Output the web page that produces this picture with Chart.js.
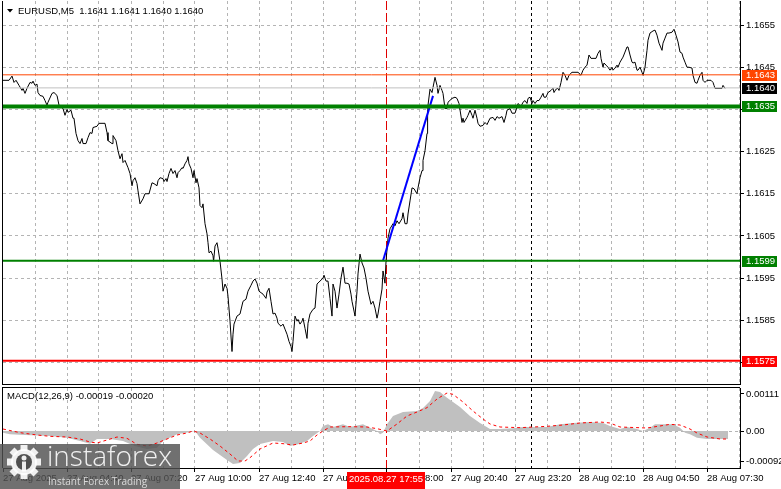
<!DOCTYPE html>
<html>
<head>
<meta charset="utf-8">
<script src="https://cdn.jsdelivr.net/npm/chart.js@4.4.1/dist/chart.umd.min.js"></script>
<style>
  html, body { margin: 0; padding: 0; background: #fff; }
  #wrap { position: relative; width: 781px; height: 489px; overflow: hidden; }
  #main { position: absolute; left: 0; top: 0; }
  #macd { position: absolute; left: 0; top: 386px; }
</style>
</head>
<body>
<div id="wrap">
  <canvas id="main" width="781" height="386"></canvas>
  <canvas id="macd" width="781" height="103"></canvas>
</div>
<script>
// EURUSD M5 close prices, [bar index, price]
const pricePath = [
  [0,1.16419],[3,1.16419],[4.5,1.16429],[5.5,1.16414],[6.5,1.16419],[8,1.16407],[9.5,1.16395],[10,1.16400],[11,1.16388],[12,1.16400],
  [13.5,1.16414],[14.5,1.16412],[15,1.16417],[16,1.16407],[17,1.16410],[17.5,1.16390],[18.5,1.16383],[20,1.16381],[21,1.16371],[22,1.16360],
  [22.5,1.16367],[24.5,1.16388],[25.5,1.16390],[27,1.16383],[28,1.16360],[30,1.16352],[31,1.16336],[32,1.16350],[32.5,1.16343],[34,1.16348],
  [35,1.16329],[35.5,1.16329],[36.5,1.16293],[37.5,1.16276],[38.5,1.16269],[39.5,1.16281],[40,1.16269],[41.5,1.16269],[42.5,1.16283],[43.5,1.16295],
  [44.5,1.16293],[45,1.16307],[47,1.16310],[48,1.16317],[51,1.16317],[52,1.16295],[52.5,1.16276],[54.5,1.16269],[55,1.16288],[56.5,1.16276],
  [57.5,1.16252],[58.5,1.16233],[59.5,1.16245],[60,1.16224],[61,1.16229],[62.5,1.16212],[63.5,1.16198],[64.5,1.16169],[65,1.16181],[66,1.16188],
  [67,1.16174],[67.5,1.16157],[68.5,1.16126],[70,1.16138],[71,1.16150],[73,1.16150],[74.5,1.16176],[75.5,1.16174],[77,1.16169],[77.5,1.16181],
  [78.5,1.16188],[80,1.16186],[80.5,1.16179],[81.5,1.16186],[82,1.16179],[83,1.16198],[84,1.16210],[85,1.16198],[86,1.16205],[87,1.16188],
  [87.5,1.16200],[88.5,1.16205],[89.5,1.16212],[90,1.16210],[91,1.16221],[92,1.16229],[92.5,1.16238],[93,1.16221],[94,1.16210],[95,1.16188],
  [95.5,1.16205],[96.5,1.16176],[97,1.16186],[98,1.16164],[98.5,1.16122],[99.5,1.16117],[100,1.16126],[101,1.16079],[102,1.16055],[102.5,1.16034],
  [103,1.16010],[104,1.16014],[105,1.16003],[105.3,1.15990],[106,1.16026],[107,1.16034],[107.5,1.16021],[108.5,1.15990],[109.5,1.15948],[110,1.15919],
  [111,1.15936],[112,1.15926],[112.5,1.15907],[113.5,1.15848],[114.5,1.15776],[115,1.15817],[115.5,1.15841],[117,1.15860],[118.5,1.15865],[120,1.15895],
  [121.5,1.15900],[122.5,1.15919],[124,1.15933],[125,1.15943],[126,1.15948],[127,1.15938],[128,1.15919],[130,1.15912],[131.5,1.15902],[132,1.15917],
  [133,1.15926],[134,1.15895],[135,1.15865],[136,1.15867],[137,1.15855],[137.5,1.15843],[139,1.15836],[140,1.15841],[141,1.15829],[142,1.15817],
  [143,1.15800],[144,1.15788],[144.5,1.15776],[145,1.15800],[146,1.15860],[147,1.15848],[147.5,1.15852],[148.5,1.15841],[149.5,1.15848],[150,1.15855],
  [151,1.15831],[152,1.15807],[152.5,1.15843],[153.5,1.15865],[155,1.15876],[156,1.15879],[157,1.15936],[158.5,1.15943],[160,1.15950],[160.5,1.15957],
  [161.5,1.15943],[162.5,1.15943],[163.5,1.15902],[164.5,1.15860],[165,1.15936],[166,1.15919],[167,1.15879],[168,1.15912],[169,1.15950],[170,1.15976],
  [171,1.15938],[172,1.15938],[173,1.15936],[174,1.15912],[174.5,1.15895],[175.5,1.15872],[176,1.15860],[177,1.15919],[177.5,1.15960],[178.5,1.16007],
  [179.5,1.15986],[180.5,1.15974],[181.5,1.15950],[182.5,1.15919],[184,1.15888],[185,1.15895],[186,1.15879],[187,1.15855],[187.5,1.15865],[188.5,1.15895],
  [189.5,1.15924],[190,1.15967],[191,1.15938],[191.5,1.15990],[192.5,1.16045],[193.5,1.16067],[195,1.16079],[196,1.16074],[197,1.16086],[198,1.16079],
  [199.5,1.16091],[200,1.16105],[201,1.16079],[202,1.16079],[202.5,1.16102],[203.5,1.16133],[204.5,1.16164],[205.5,1.16162],[207,1.16150],[207.5,1.16164],
  [208.5,1.16188],[209.5,1.16205],[210,1.16229],[211,1.16252],[212,1.16293],[212.3,1.16341],[212.5,1.16360],[213.5,1.16398],[214.5,1.16390],[215,1.16402],
  [216,1.16426],[217,1.16407],[217.5,1.16388],[218.5,1.16407],[219.5,1.16395],[220,1.16388],[221,1.16352],[222,1.16352],[222.5,1.16367],[224.5,1.16376],
  [226,1.16379],[227,1.16376],[228,1.16364],[229.5,1.16319],[230,1.16329],[230.5,1.16319],[232,1.16331],[232.5,1.16336],[233.5,1.16348],[234.5,1.16336],
  [235,1.16329],[236,1.16348],[237,1.16329],[237.5,1.16317],[238.5,1.16310],[240,1.16312],[241,1.16319],[242,1.16314],[243.5,1.16329],[245,1.16331],
  [246,1.16324],[247,1.16333],[248,1.16329],[249.5,1.16333],[250.5,1.16319],[251.5,1.16336],[252,1.16348],[253.5,1.16352],[254.5,1.16341],[256,1.16341],
  [257,1.16355],[257.5,1.16364],[259,1.16357],[260,1.16367],[261,1.16371],[262,1.16364],[262.5,1.16376],[263.5,1.16379],[264.5,1.16364],[265,1.16371],
  [266,1.16364],[267,1.16371],[268,1.16371],[269,1.16379],[270,1.16388],[270.5,1.16379],[271.5,1.16379],[272.5,1.16390],[274,1.16395],[275,1.16400],
  [275.5,1.16390],[276.5,1.16398],[277.5,1.16400],[278,1.16395],[279,1.16414],[280,1.16438],[281,1.16431],[282,1.16419],[283,1.16431],[284.5,1.16438],
  [287.5,1.16438],[289,1.16431],[290,1.16443],[291,1.16450],[292,1.16455],[293,1.16479],[294,1.16471],[295,1.16471],[296.5,1.16471],[297.5,1.16483],
  [298.5,1.16490],[299,1.16471],[300,1.16450],[300.5,1.16460],[301.5,1.16455],[302.5,1.16450],[303.5,1.16443],[304.5,1.16450],[305,1.16443],[306,1.16448],
  [307,1.16455],[307.5,1.16450],[308.5,1.16462],[310,1.16474],[311,1.16486],[312,1.16498],[312.5,1.16498],[313.5,1.16479],[314.5,1.16462],[315,1.16460],
  [316,1.16462],[317,1.16443],[317.5,1.16443],[318.5,1.16450],[319.5,1.16438],[320,1.16431],[321,1.16450],[322,1.16490],[322.5,1.16514],[323.5,1.16531],
  [325,1.16536],[326,1.16538],[327,1.16526],[328,1.16507],[329.5,1.16490],[330,1.16507],[331,1.16519],[332,1.16531],[333,1.16531],[334.5,1.16533],
  [335.5,1.16540],[336.5,1.16526],[337.5,1.16510],[338.5,1.16486],[339.5,1.16483],[340,1.16474],[341,1.16462],[342,1.16450],[343,1.16450],[344.5,1.16448],
  [345,1.16431],[346,1.16414],[347,1.16412],[347.5,1.16419],[348.5,1.16431],[349.5,1.16438],[350,1.16419],[351,1.16414],[352,1.16419],[354,1.16419],
  [355,1.16414],[355.5,1.16407],[356,1.16400],[359.5,1.16400],[360,1.16407],[361,1.16400]
];

// MACD main (histogram) and signal, [bar index, value]
const histPath = [
  [0,-0.00005],[3.5,-0.00010],[11,-0.00012],[23.5,-0.00015],[32,-0.00020],[38.5,-0.00030],[43.5,-0.00038],[47,-0.00024],[53.5,-0.00024],[60,-0.00030],
  [66,-0.00045],[72,-0.00054],[77,-0.00050],[80,-0.00030],[87,-0.00010],[93.5,-0.00003],[96,0],[98.5,-0.00020],[105,-0.00057],[112,-0.00087],
  [115,-0.00099],[118.5,-0.00096],[122,-0.00075],[125,-0.00054],[128.5,-0.00039],[135,-0.00030],[140,-0.00033],[143.5,-0.00045],[147.5,-0.00040],[152,-0.00030],
  [155,-0.00015],[158.5,0],[160,0.00015],[162.5,0.00020],[165,0.00012],[170,0.00020],[173.5,0.00012],[180,0.00020],[183.5,0.00010],[187,0],
  [188.5,-0.00010],[190,-0.00005],[192,0.00020],[195,0.00045],[200,0.00057],[207,0.00060],[210,0.00069],[213.5,0.00090],[216,0.00120],[218.5,0.00117],
  [222,0.00100],[225,0.00087],[228.5,0.00072],[233.5,0.00045],[238.5,0.00024],[243.5,0.00006],[248.5,0.00006],[255,0.00008],[260,0.00012],[272,0.00012],
  [278.5,0.00020],[285,0.00024],[293.5,0.00027],[300,0.00024],[303.5,0.00015],[308.5,0.00006],[312,0.00012],[317,0.00006],[320,0],[323.5,0.00010],
  [326,0.00020],[335,0.00020],[338.5,0.00010],[341,-0.00005],[343.5,-0.00010],[347,-0.00020],[352,-0.00024],[362.5,-0.00024]
];
const signalPath = [
  [0,0.00006],[8.5,-0.00005],[17,-0.00012],[23.5,-0.00016],[32,-0.00018],[38.5,-0.00024],[43.5,-0.00033],[47,-0.00036],[52,-0.00027],[57,-0.00018],
  [62,-0.00022],[67,-0.00040],[72,-0.00045],[77,-0.00036],[82,-0.00024],[87,-0.00012],[92,-0.00006],[95,0],[98.5,-0.00006],[103.5,-0.00024],
  [108.5,-0.00045],[113.5,-0.00069],[117.5,-0.00090],[121,-0.00090],[123.5,-0.00080],[128.5,-0.00054],[135,-0.00036],[140,-0.00038],[145,-0.00042],[150,-0.00036],
  [153.5,-0.00030],[157,-0.00012],[160,0],[163.5,0.00012],[173.5,0.00013],[182,0.00012],[187,0.00007],[192,0],[197,0.00021],[202,0.00045],
  [207,0.00057],[212,0.00070],[217,0.00096],[222,0.00114],[225,0.00110],[230,0.00087],[235,0.00060],[240,0.00036],[243.5,0.00021],[248.5,0.00012],
  [258.5,0.00010],[272,0.00014],[280,0.00018],[288.5,0.00024],[298.5,0.00027],[303.5,0.00024],[308.5,0.00012],[322,0.00009],[328.5,0.00015],[333.5,0.00020],
  [338.5,0.00018],[343.5,0.00006],[347,-0.00006],[352,-0.00018],[358.5,-0.00024],[362.5,-0.00024]
];

const priceTicks = [1.1575, 1.1585, 1.1595, 1.1605, 1.1615, 1.1625, 1.1635, 1.1645, 1.1655];
const macdTicks = [0.00111, 0, -0.00092];
const timeLabels = ['27 Aug 2025', '27 Aug 04:40', '27 Aug 07:20', '27 Aug 10:00', '27 Aug 12:40', '27 Aug 15:20',
                    '27 Aug 18:00', '27 Aug 20:40', '27 Aug 23:20', '28 Aug 02:10', '28 Aug 04:50', '28 Aug 07:30'];

// horizontal levels: ask, bid, then drawn levels
const levels = [1.16432, 1.16401, 1.16357, 1.15991, 1.15754];
const levelLabels = ['1.1643', '1.1640', '1.1635', '1.1599', '1.1575'];
const trendLine = [[190, 1.15991], [215, 1.16382]];
const markerBars = [191.5, 264];
const markerText = '2025.08.27 17:55';
const titleText = 'EURUSD,M5  1.1641 1.1641 1.1640 1.1640';
const macdText = 'MACD(12,26,9) -0.00019 -0.00020';

// ---- styles ----
const FONT = 'Liberation Sans';
const FSIZE = 9.5;
const GRID = '#b4b4b4';
const X_MAX = 368.5;
const levelStyle = [
  { color: '#ff4500', width: 1, box: '#ff4500' },
  { color: '#c0c0c0', width: 1, box: '#000000' },
  { color: '#008000', width: 4, box: '#008000' },
  { color: '#008000', width: 2, box: '#008000' },
  { color: '#ff0000', width: 2, box: '#ff0000' }
];

const gridBars = [];
for (let b = 0; b <= 368; b += 16) gridBars.push(b);

const toXY = arr => arr.map(p => ({ x: p[0], y: p[1] }));

function drawMarkers(chart) {
  const { ctx, chartArea: a, scales: { x } } = chart;
  markerBars.forEach((b, i) => {
    const px = Math.round(x.getPixelForValue(b)) + 0.5;
    ctx.save();
    ctx.strokeStyle = i === 0 ? '#e00000' : '#000000';
    ctx.setLineDash(i === 0 ? [9, 3] : [3, 3]);
    ctx.lineWidth = 1;
    ctx.beginPath();
    ctx.moveTo(px, a.top);
    ctx.lineTo(px, a.bottom);
    ctx.stroke();
    ctx.restore();
  });
}

function drawFrame(ctx, a, top, bottom) {
  ctx.save();
  ctx.strokeStyle = '#000';
  ctx.lineWidth = 1;
  ctx.beginPath();
  ctx.moveTo(a.left - 0.5, a.top);
  ctx.lineTo(a.left - 0.5, a.bottom);
  if (top) { ctx.moveTo(a.left - 1, a.top - 0.5); ctx.lineTo(a.right, a.top - 0.5); }
  if (bottom) { ctx.moveTo(a.left - 1, a.bottom + 0.5); ctx.lineTo(a.right, a.bottom + 0.5); }
  ctx.stroke();
  ctx.restore();
}

const mainDecor = {
  id: 'mainDecor',
  beforeDatasetsDraw(chart) { drawMarkers(chart); },
  afterDraw(chart) {
    const { ctx, chartArea: a, scales: { y } } = chart;
    drawFrame(ctx, a, false, true);
    // title
    ctx.save();
    ctx.fillStyle = '#000';
    ctx.beginPath();
    ctx.moveTo(7, 9); ctx.lineTo(13, 9); ctx.lineTo(10, 12.5); ctx.closePath();
    ctx.fill();
    ctx.font = FSIZE + 'px "' + FONT + '"';
    ctx.textBaseline = 'middle';
    ctx.fillText(titleText, 18, 11);
    // level price boxes on the axis
    levels.forEach((v, i) => {
      const py = Math.round(y.getPixelForValue(v));
      ctx.fillStyle = levelStyle[i].box;
      ctx.fillRect(742, py - 5, 35, 11);
      ctx.fillStyle = '#fff';
      ctx.fillText(levelLabels[i], 746, py + 0.5);
    });
    ctx.restore();
  }
};

const macdDecor = {
  id: 'macdDecor',
  beforeDatasetsDraw(chart) { drawMarkers(chart); },
  afterDraw(chart) {
    const { ctx, chartArea: a, scales: { x } } = chart;
    drawFrame(ctx, a, true, false);
    ctx.save();
    ctx.font = FSIZE + 'px "' + FONT + '"';
    ctx.textBaseline = 'middle';
    ctx.fillStyle = '#000';
    ctx.fillText(macdText, 7, 10);

    // watermark
    ctx.fillStyle = 'rgba(80,80,80,0.82)';
    ctx.fillRect(0, 58, 180, 45);
    const cx = 24, cy = 76;
    ctx.fillStyle = 'rgba(255,255,255,0.9)';
    for (let k = 0; k < 8; k++) {
      const ang = k * Math.PI / 4;
      ctx.save();
      ctx.translate(cx, cy);
      ctx.rotate(ang);
      ctx.fillRect(-3.5, -17, 7, 6);
      ctx.restore();
    }
    ctx.beginPath(); ctx.arc(cx, cy, 13, 0, Math.PI * 2); ctx.fill();
    ctx.fillStyle = 'rgb(80,80,80)';
    ctx.beginPath(); ctx.arc(cx, cy, 8, 0, Math.PI * 2); ctx.fill();
    ctx.fillStyle = 'rgba(255,255,255,0.9)';
    ctx.beginPath(); ctx.arc(cx, cy - 4, 2.5, 0, Math.PI * 2); ctx.fill();
    ctx.fillRect(cx - 2, cy - 0.5, 4, 10);
    ctx.textBaseline = 'alphabetic';
    ctx.font = '300 28px "Open Sans"';
    ctx.fillText('instaforex', 47, 80);
    ctx.font = '10px "Open Sans"';
    ctx.fillStyle = 'rgba(235,235,235,0.85)';
    ctx.fillText('Instant Forex Trading', 48, 99);

    // current time box on the time axis
    const px = Math.round(x.getPixelForValue(markerBars[0]));
    ctx.fillStyle = '#ff0000';
    ctx.fillRect(px - 39, 86, 78, 17);
    ctx.fillStyle = '#fff';
    ctx.font = FSIZE + 'px "' + FONT + '"';
    ctx.textAlign = 'center';
    ctx.textBaseline = 'middle';
    ctx.fillText(markerText, px, 93);
    ctx.restore();
  }
};

const tickFont = { family: FONT, size: FSIZE };

// ---- main price chart ----
new Chart(document.getElementById('main').getContext('2d'), {
  type: 'line',
  data: {
    datasets: [
      ...levels.map((v, i) => ({
        data: [{ x: 0, y: v }, { x: X_MAX, y: v }],
        borderColor: levelStyle[i].color,
        borderWidth: levelStyle[i].width
      })),
      { data: toXY(trendLine), borderColor: '#0000ff', borderWidth: 2 },
      { data: toXY(pricePath), borderColor: '#000000', borderWidth: 1 }
    ]
  },
  options: {
    responsive: false,
    animation: false,
    events: [],
    layout: { padding: { left: 3, top: 1, bottom: 2, right: 0 } },
    elements: { point: { radius: 0 }, line: { tension: 0 } },
    plugins: { legend: { display: false }, tooltip: { enabled: false } },
    scales: {
      x: {
        type: 'linear', min: 0, max: X_MAX,
        afterBuildTicks: s => { s.ticks = gridBars.map(v => ({ value: v })); },
        afterFit: s => { s.height = 0; s.paddingLeft = 0; s.paddingRight = 0; },
        ticks: { display: false },
        grid: { color: c => (c.tick && c.tick.value === 0) ? 'transparent' : GRID, drawTicks: false },
        border: { display: false, dash: [3, 3] }
      },
      y: {
        position: 'right', min: 1.15699, max: 1.16607,
        afterBuildTicks: s => { s.ticks = priceTicks.map(v => ({ value: v })); },
        afterFit: s => { s.width = 41; s.paddingTop = 0; s.paddingBottom = 0; },
        ticks: { font: tickFont, color: '#000', padding: 2, callback: v => v.toFixed(4) },
        grid: { color: GRID, tickColor: '#000', tickLength: 4 },
        border: { display: true, color: '#000', width: 1, dash: [3, 3] }
      }
    }
  },
  plugins: [mainDecor]
});

// ---- MACD panel ----
new Chart(document.getElementById('macd').getContext('2d'), {
  type: 'line',
  data: {
    datasets: [
      { data: toXY(signalPath), borderColor: '#ff0000', borderWidth: 1, borderDash: [3, 3] },
      { data: toXY(histPath), borderWidth: 0, borderColor: 'transparent', backgroundColor: '#c0c0c0', fill: 'origin' }
    ]
  },
  options: {
    responsive: false,
    animation: false,
    events: [],
    layout: { padding: { left: 3, top: 2, bottom: 0, right: 0 } },
    elements: { point: { radius: 0 }, line: { tension: 0 } },
    plugins: { legend: { display: false }, tooltip: { enabled: false } },
    scales: {
      x: {
        type: 'linear', min: 0, max: X_MAX,
        afterBuildTicks: s => { s.ticks = gridBars.map(v => ({ value: v })); },
        afterFit: s => { s.height = 21; s.paddingLeft = 0; s.paddingRight = 0; },
        ticks: {
          font: tickFont, color: '#000', padding: 1, align: 'start', maxRotation: 0, autoSkip: false,
          callback: (v, i) => (i % 2 === 0 && timeLabels[i / 2]) ? timeLabels[i / 2] : ''
        },
        grid: {
          color: c => (c.tick && c.tick.value === 0) ? 'transparent' : GRID,
          tickColor: c => (c.index % 2 === 0) ? '#000' : 'transparent',
          tickLength: 4
        },
        border: { display: true, color: '#000', width: 1, dash: [3, 3] }
      },
      y: {
        position: 'right', min: -0.00111, max: 0.00129,
        afterBuildTicks: s => { s.ticks = macdTicks.map(v => ({ value: v })); },
        afterFit: s => { s.width = 41; s.paddingTop = 0; s.paddingBottom = 0; },
        ticks: { font: tickFont, color: '#000', padding: 2, callback: v => v === 0 ? '0.00' : v.toFixed(5) },
        grid: { color: c => (c.tick && c.tick.value === 0) ? GRID : 'transparent', tickColor: '#000', tickLength: 4 },
        border: { display: true, color: '#000', width: 1, dash: [3, 3] }
      }
    }
  },
  plugins: [macdDecor]
});
</script>
</body>
</html>
